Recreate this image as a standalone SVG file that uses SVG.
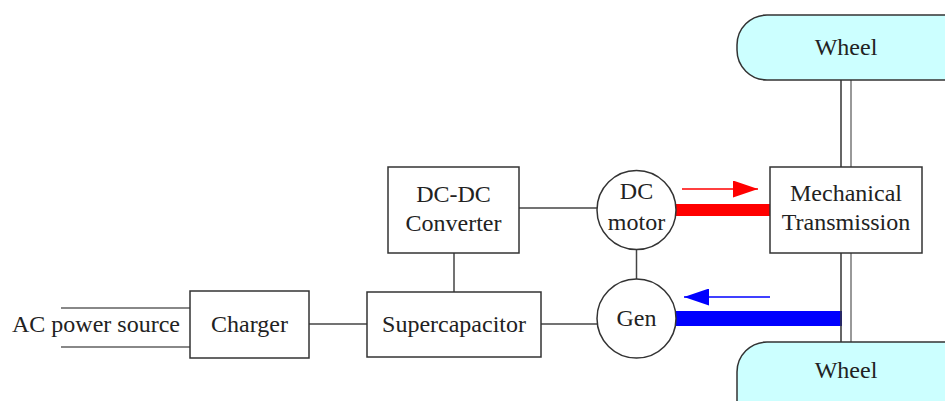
<svg xmlns="http://www.w3.org/2000/svg" width="945" height="401" viewBox="0 0 945 401">
<style>
.box{fill:#fff;stroke:#333;stroke-width:1.5}
.wheel{fill:#ccffff;stroke:#333;stroke-width:1.5}
.ln{stroke:#444;stroke-width:1.5;fill:none}
.ac{stroke:#888;stroke-width:2;fill:none}
text{font-family:"Liberation Serif","Times New Roman",serif;font-size:24px;fill:#222;text-anchor:middle}
</style>
<defs>
<marker id="ar" markerWidth="25" markerHeight="17" refX="25" refY="8.5" orient="auto" markerUnits="userSpaceOnUse">
<path d="M0,0 L25,8.5 L0,17 Z" fill="red"/>
</marker>
<marker id="ab" markerWidth="25" markerHeight="17" refX="25" refY="8.5" orient="auto" markerUnits="userSpaceOnUse">
<path d="M0,0 L25,8.5 L0,17 Z" fill="#0000ff"/>
</marker>
</defs>
<g id="connectors">
<line class="ac" x1="61" y1="308" x2="190" y2="308"/>
<line class="ac" x1="61" y1="347" x2="190" y2="347"/>
<line class="ln" x1="309" y1="324" x2="367" y2="324"/>
<line class="ln" x1="541" y1="324" x2="597" y2="324"/>
<line class="ln" x1="454" y1="253" x2="454" y2="292"/>
<line class="ln" x1="519" y1="208" x2="597" y2="208"/>
<line class="ln" x1="636.5" y1="249.5" x2="636.5" y2="279"/>
<rect x="676" y="204" width="94" height="12" fill="red"/>
<rect x="676" y="311" width="166" height="15" fill="#0000ff"/>
<line x1="682" y1="189" x2="758" y2="189" stroke="red" stroke-width="1.5" marker-end="url(#ar)"/>
<line x1="770" y1="297" x2="684" y2="297" stroke="#0000ff" stroke-width="1.5" marker-end="url(#ab)"/>
<line x1="841" y1="80" x2="841" y2="167" stroke="#333" stroke-width="1.5"/>
<line x1="851" y1="80" x2="851" y2="167" stroke="#777" stroke-width="1.5"/>
<line x1="841" y1="253" x2="841" y2="342" stroke="#333" stroke-width="1.5"/>
<line x1="851" y1="253" x2="851" y2="342" stroke="#777" stroke-width="1.5"/>
</g>
<g id="ac-source"><text x="96" y="332">AC power source</text></g>
<g id="charger"><rect class="box" x="190" y="291" width="119" height="67"/><text x="249.5" y="332">Charger</text></g>
<g id="supercapacitor"><rect class="box" x="367" y="292" width="174" height="65"/><text x="454" y="332">Supercapacitor</text></g>
<g id="dcdc"><rect class="box" x="388" y="167" width="131" height="86"/><text x="453.5" y="202">DC-DC</text><text x="453.5" y="231">Converter</text></g>
<g id="dcmotor"><circle class="box" cx="636.5" cy="210" r="39.5"/><text x="636.5" y="199">DC</text><text x="636.5" y="230">motor</text></g>
<g id="gen"><circle class="box" cx="636.5" cy="318.5" r="39.5"/><text x="636.5" y="326">Gen</text></g>
<g id="transmission"><rect class="box" x="770" y="167" width="152" height="86"/><text x="846" y="201">Mechanical</text><text x="846" y="230">Transmission</text></g>
<g id="wheel-top"><rect class="wheel" x="737" y="15" width="240" height="65" rx="30" ry="30"/><text x="846" y="55">Wheel</text></g>
<g id="wheel-bottom"><rect class="wheel" x="737" y="342" width="240" height="90" rx="30" ry="30"/><text x="846" y="378">Wheel</text></g>
</svg>
